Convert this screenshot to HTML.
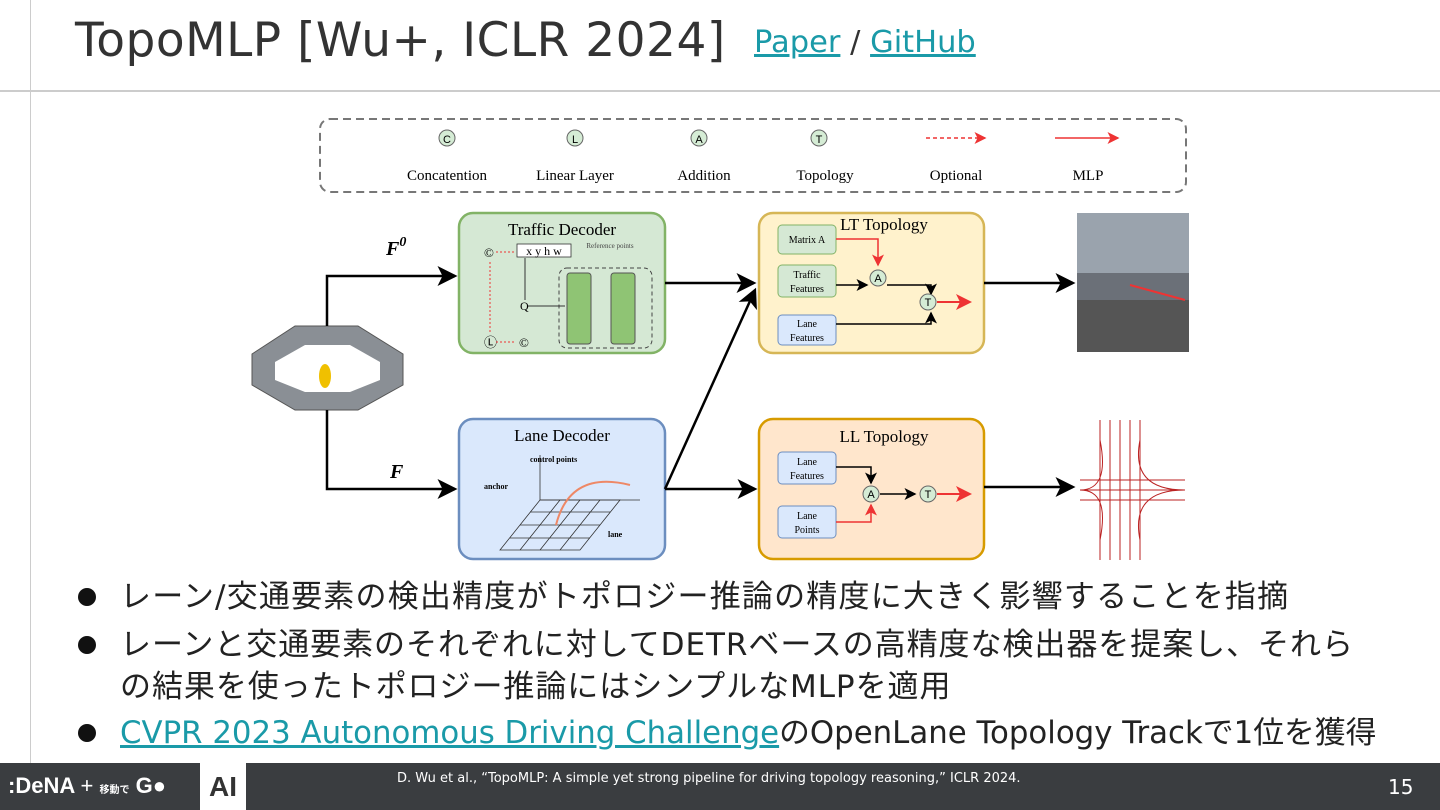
<!DOCTYPE html>
<html><head><meta charset="utf-8"><style>
body{margin:0;width:1440px;height:810px;overflow:hidden;background:#fff;position:relative;font-family:"Liberation Sans","Noto Sans CJK JP",sans-serif}
.t{position:absolute;left:75px;top:13px;font-size:47px;color:#333;font-family:"DejaVu Sans","Noto Sans CJK JP",sans-serif;letter-spacing:0.5px}
.lk{position:absolute;top:25px;font-size:30.5px;font-family:"DejaVu Sans",sans-serif;color:#333}
.lk a{color:#1a9aa8;text-decoration:underline}
.b{position:absolute;left:78px;font-size:31px;color:#222;font-family:"DejaVu Sans","Noto Sans CJK JP",sans-serif;line-height:42px;white-space:nowrap;letter-spacing:1.2px}
.b::before{content:"";position:absolute;left:0;top:12px;width:18px;height:18px;border-radius:50%;background:#111}
.b span.i{padding-left:42px;display:block}
.foot{position:absolute;left:0;top:763px;width:1440px;height:47px;background:#3a3d40;color:#fff}
</style></head><body>
<div style="position:absolute;left:30px;top:0;width:1px;height:763px;background:#ccc"></div>
<div style="position:absolute;left:0;top:90px;width:1440px;height:2px;background:#ccc"></div>
<div class="t">TopoMLP [Wu+, ICLR 2024]</div>
<div class="lk" style="left:754px"><a>Paper</a> / <a>GitHub</a></div>
<svg width="1440" height="810" style="position:absolute;left:0;top:0" font-family="Liberation Serif,serif">
<defs>
<marker id="ab" markerWidth="8" markerHeight="8" refX="7" refY="4" orient="auto"><path d="M0,0L8,4L0,8L2,4z" fill="#000"/></marker>
<marker id="ar" markerWidth="8" markerHeight="8" refX="7" refY="4" orient="auto"><path d="M0,0L8,4L0,8L2,4z" fill="#e33"/></marker>
</defs>
<rect x="320" y="119" width="866" height="73" rx="10" fill="none" stroke="#777" stroke-width="2" stroke-dasharray="8,5"/>
<g font-size="15" text-anchor="middle">
<circle cx="447" cy="138" r="8" fill="#d5ecd5" stroke="#666"/><text x="447" y="143" font-size="11" font-family="Liberation Sans">C</text><text x="447" y="180">Concatention</text>
<circle cx="575" cy="138" r="8" fill="#d5ecd5" stroke="#666"/><text x="575" y="143" font-size="11" font-family="Liberation Sans">L</text><text x="575" y="180">Linear Layer</text>
<circle cx="699" cy="138" r="8" fill="#d5ecd5" stroke="#666"/><text x="699" y="143" font-size="11" font-family="Liberation Sans">A</text><text x="704" y="180">Addition</text>
<circle cx="819" cy="138" r="8" fill="#d5ecd5" stroke="#666"/><text x="819" y="143" font-size="11" font-family="Liberation Sans">T</text><text x="825" y="180">Topology</text>
<line x1="926" y1="138" x2="985" y2="138" stroke="#e33" stroke-width="1.5" stroke-dasharray="4,3" marker-end="url(#ar)"/><text x="956" y="180">Optional</text>
<line x1="1055" y1="138" x2="1118" y2="138" stroke="#e33" stroke-width="1.5" marker-end="url(#ar)"/><text x="1088" y="180">MLP</text>
</g>
<polygon points="295,326 358,326 403,354 403,385 358,410 295,410 252,385 252,354" fill="#8a8f95" stroke="#555"/>
<polygon points="305,345 350,345 380,362 380,380 350,392 305,392 275,380 275,362" fill="#fff"/>
<ellipse cx="325" cy="376" rx="6" ry="12" fill="#f0c000"/>
<path d="M327,326 V276 H455" fill="none" stroke="#000" stroke-width="2.5" marker-end="url(#ab)"/>
<path d="M327,410 V489 H455" fill="none" stroke="#000" stroke-width="2.5" marker-end="url(#ab)"/>
<text x="386" y="255" font-size="20" font-style="italic" font-weight="bold">F<tspan dy="-9" font-size="14">0</tspan></text>
<text x="390" y="478" font-size="20" font-style="italic" font-weight="bold">F</text>
<rect x="459" y="213" width="206" height="140" rx="14" fill="#d5e8d4" stroke="#82b366" stroke-width="2.5"/>
<text x="562" y="235" font-size="17" text-anchor="middle">Traffic Decoder</text>
<rect x="517" y="244" width="54" height="13" fill="#fff" stroke="#333" stroke-width=".8"/>
<text x="544" y="255" font-size="12" text-anchor="middle">x y h w</text>
<text x="610" y="248" font-size="7" fill="#444" text-anchor="middle">Reference points</text>
<text x="484" y="257" font-size="13">©</text><text x="484" y="347" font-size="13">Ⓛ</text><text x="519" y="347" font-size="13">©</text>
<line x1="490" y1="262" x2="490" y2="334" stroke="#e33" stroke-dasharray="2,2"/>
<line x1="496" y1="252" x2="514" y2="252" stroke="#e33" stroke-dasharray="2,2"/>
<line x1="496" y1="342" x2="514" y2="342" stroke="#e33" stroke-dasharray="2,2"/>
<line x1="525" y1="300" x2="525" y2="258" stroke="#333"/>
<rect x="559" y="268" width="93" height="80" rx="8" fill="none" stroke="#444" stroke-dasharray="4,3"/>
<rect x="567" y="273" width="24" height="71" rx="3" fill="#8fc474" stroke="#555"/>
<rect x="611" y="273" width="24" height="71" rx="3" fill="#8fc474" stroke="#555"/>
<line x1="527" y1="306" x2="565" y2="306" stroke="#333"/><text x="520" y="310" font-size="12">Q</text>
<rect x="459" y="419" width="206" height="140" rx="14" fill="#dae8fc" stroke="#6c8ebf" stroke-width="2.5"/>
<text x="562" y="441" font-size="17" text-anchor="middle">Lane Decoder</text>
<g stroke="#333" stroke-width=".8" fill="none"><path d="M500,550 L540,500 L620,500 L580,550 Z"/><path d="M510,538 L590,538 M520,525 L600,525 M530,512 L610,512 M520,550 L560,500 M540,550 L580,500 M560,550 L600,500"/><path d="M540,500 V455 M540,500 H640"/></g>
<path d="M556,525 Q570,470 630,485" fill="none" stroke="#e86" stroke-width="2"/>
<text x="530" y="462" font-size="8" font-weight="bold">control points</text><text x="484" y="489" font-size="8" font-weight="bold">anchor</text><text x="608" y="537" font-size="8" font-weight="bold">lane</text>
<path d="M665,283 H754" stroke="#000" stroke-width="2.5" marker-end="url(#ab)"/>
<path d="M665,489 L755,290" fill="none" stroke="#000" stroke-width="2.5" marker-end="url(#ab)"/>
<path d="M665,489 H755" stroke="#000" stroke-width="2.5" marker-end="url(#ab)"/>
<rect x="759" y="213" width="225" height="140" rx="14" fill="#fff2cc" stroke="#d6b656" stroke-width="2.5"/>
<text x="884" y="230" font-size="17" text-anchor="middle">LT Topology</text>
<rect x="759" y="419" width="225" height="140" rx="14" fill="#ffe6cc" stroke="#d79b00" stroke-width="2.5"/>
<text x="884" y="442" font-size="17" text-anchor="middle">LL Topology</text>
<g font-size="10" text-anchor="middle">
<rect x="778" y="225" width="58" height="29" rx="4" fill="#d5e8d4" stroke="#82b366"/><text x="807" y="243">Matrix A</text>
<rect x="778" y="265" width="58" height="32" rx="4" fill="#d5e8d4" stroke="#82b366"/><text x="807" y="278">Traffic</text><text x="807" y="292">Features</text>
<rect x="778" y="315" width="58" height="30" rx="4" fill="#dae8fc" stroke="#6c8ebf"/><text x="807" y="327">Lane</text><text x="807" y="341">Features</text>
<rect x="778" y="452" width="58" height="32" rx="4" fill="#dae8fc" stroke="#6c8ebf"/><text x="807" y="465">Lane</text><text x="807" y="479">Features</text>
<rect x="778" y="506" width="58" height="32" rx="4" fill="#dae8fc" stroke="#6c8ebf"/><text x="807" y="519">Lane</text><text x="807" y="533">Points</text>
</g>
<path d="M836,239 H878 V265" fill="none" stroke="#e33" stroke-width="1.5" marker-end="url(#ar)"/>
<path d="M836,285 H867" stroke="#000" stroke-width="1.5" marker-end="url(#ab)"/>
<path d="M887,285 H931 V294" fill="none" stroke="#000" stroke-width="1.5" marker-end="url(#ab)"/>
<path d="M836,324 H931 V313" fill="none" stroke="#000" stroke-width="1.5" marker-end="url(#ab)"/>
<path d="M937,302 H970" stroke="#e33" stroke-width="2" marker-end="url(#ar)"/>
<path d="M836,467 H871 V483" fill="none" stroke="#000" stroke-width="1.5" marker-end="url(#ab)"/>
<path d="M836,522 H871 V505" fill="none" stroke="#e33" stroke-width="1.5" marker-end="url(#ar)"/>
<path d="M880,494 H915" stroke="#000" stroke-width="1.5" marker-end="url(#ab)"/>
<path d="M937,494 H970" stroke="#e33" stroke-width="2" marker-end="url(#ar)"/>
<g font-size="11" font-family="Liberation Sans" text-anchor="middle">
<circle cx="878" cy="278" r="8" fill="#d5ecd5" stroke="#666"/><text x="878" y="282">A</text>
<circle cx="928" cy="302" r="8" fill="#d5ecd5" stroke="#666"/><text x="928" y="306">T</text>
<circle cx="871" cy="494" r="8" fill="#d5ecd5" stroke="#666"/><text x="871" y="498">A</text>
<circle cx="928" cy="494" r="8" fill="#d5ecd5" stroke="#666"/><text x="928" y="498">T</text>
</g>
<path d="M984,283 H1073" stroke="#000" stroke-width="2.5" marker-end="url(#ab)"/>
<path d="M984,487 H1073" stroke="#000" stroke-width="2.5" marker-end="url(#ab)"/>
<rect x="1077" y="213" width="112" height="139" fill="#6b7078"/>
<rect x="1077" y="213" width="112" height="60" fill="#9aa3ad"/>
<rect x="1077" y="300" width="112" height="52" fill="#555"/>
<path d="M1130,285 L1185,300" stroke="#e33" stroke-width="2"/>
<g stroke="#b22" stroke-width="1" fill="none">
<path d="M1100,420 V560 M1110,420 V560 M1120,420 V560 M1130,420 V560 M1140,420 V560"/>
<path d="M1080,480 H1185 M1080,490 H1185 M1080,500 H1185"/>
<path d="M1100,440 Q1110,490 1080,490 M1140,440 Q1130,490 1185,490 M1100,540 Q1110,490 1080,490 M1140,540 Q1130,490 1185,490"/>
</g>
</svg>
<div class="b" style="top:576px"><span class="i">レーン/交通要素の検出精度がトポロジー推論の精度に大きく影響することを指摘</span></div>
<div class="b" style="top:624px;letter-spacing:0.95px"><span class="i">レーンと交通要素のそれぞれに対してDETRベースの高精度な検出器を提案し、それら<br>の結果を使ったトポロジー推論にはシンプルなMLPを適用</span></div>
<div class="b" style="top:712px;letter-spacing:0;font-size:30.8px"><span class="i"><a style="color:#1a9aa8;text-decoration:underline">CVPR 2023 Autonomous Driving Challenge</a>のOpenLane Topology Trackで1位を獲得</span></div>
<div class="foot">
<div style="position:absolute;left:8px;top:10px;font-size:22px;font-weight:bold">:DeNA <span style="font-weight:normal">+</span> <span style="font-size:10px">移動で</span> G●</div>
<div style="position:absolute;left:200px;top:0;width:46px;height:47px;background:#fff;color:#333;font-size:28px;font-weight:bold;text-align:center;line-height:47px">AI</div>
<div style="position:absolute;left:397px;top:8px;font-size:13px;font-family:'DejaVu Sans',sans-serif">D. Wu et al., “TopoMLP: A simple yet strong pipeline for driving topology reasoning,” ICLR 2024.</div>
<div style="position:absolute;left:1388px;top:12px;font-size:20px;font-family:'DejaVu Sans',sans-serif">15</div>
</div>
</body></html>
